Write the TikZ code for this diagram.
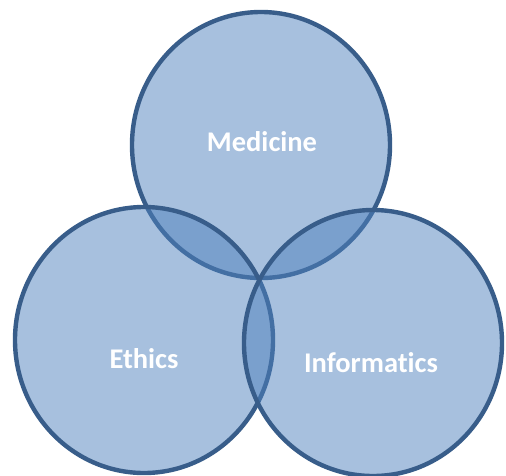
\documentclass[tikz,border=0pt]{standalone}
\usepackage{fontspec}
\setmainfont{Carlito}[Ligatures=NoCommon]
\usetikzlibrary{shapes.geometric}
\definecolor{setfill}{HTML}{4F81BD}
\definecolor{setline}{HTML}{385D8A}
\tikzset{
  setcircle/.style={ellipse, minimum width=258pt, minimum height=266pt, inner sep=0pt,
    fill=setfill, fill opacity=0.5, draw=setline, draw opacity=1, line width=4.4pt},
  setlabel/.style={text=white, font=\fontsize{28.5}{30}\selectfont\bfseries, inner sep=0pt}
}
\begin{document}
\begin{tikzpicture}[x=1pt,y=-1pt]
\useasboundingbox (0,0) rectangle (506,475);
\node[setcircle] (med) at (261,145) {};
\node[setcircle] (eth) at (144,340) {};
\node[setcircle] (inf) at (373,343) {};
\node[setlabel] (medl) at (262,142) {Medicine};
\node[setlabel] (ethl) at (144,359) {Ethics};
\node[setlabel] (infl) at (371,363) {Informat\kern0pt ics};
\end{tikzpicture}
\end{document}
